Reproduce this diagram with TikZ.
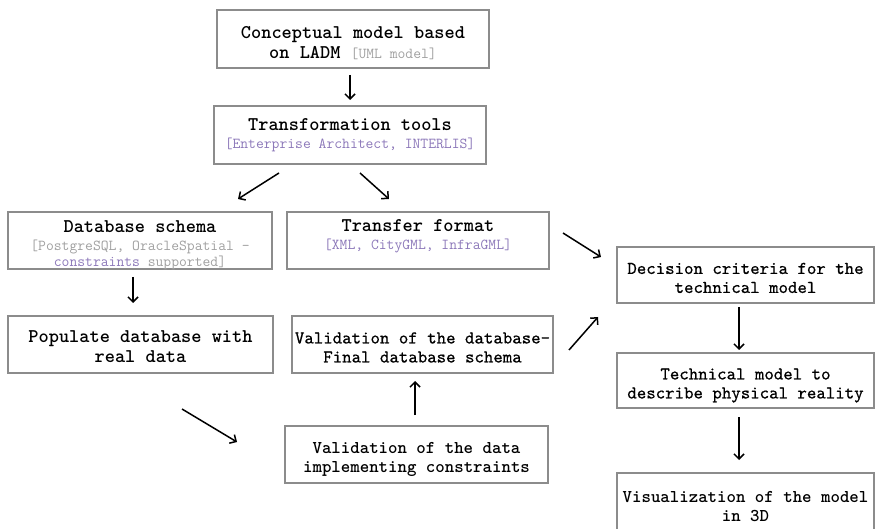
\documentclass[tikz,border=0pt]{standalone}
\usepackage{fontspec}
\newfontfamily\ttmid{lmmono10-regular.otf}[FakeBold=0.6]
\usetikzlibrary{arrows.meta}
\definecolor{boxgray}{RGB}{140,140,140}
\definecolor{subgray}{RGB}{160,160,160}
\definecolor{subpurple}{RGB}{140,120,185}
\newcommand\subtxt[1]{{\fontsize{15.2}{17}\selectfont\mdseries\color{subgray}#1}}
\newcommand\subpur[1]{{\fontsize{15.2}{17}\selectfont\mdseries\color{subpurple}#1}}
\newcommand\lift[1]{\rule{0pt}{#1}}
\newcommand\drop[1]{\rule[-#1]{0pt}{0pt}}
\begin{document}
\begin{tikzpicture}[x=1pt,y=-1pt,
 box/.style={draw=boxgray, line width=1.3pt, inner sep=0pt, align=center},
 big/.style={font=\ttfamily\bfseries\fontsize{19.4}{20.5}\selectfont},
 mid/.style={font=\ttmid\fontsize{18}{19}\selectfont},
 midb/.style={font=\ttfamily\bfseries\fontsize{18}{19}\selectfont},
 arr/.style={line width=1.5pt, -{Straight Barb[length=5pt,width=10pt]}}
]
\useasboundingbox (0,0) rectangle (876,529);

\node[box,big,minimum width=272pt,minimum height=58pt] (concept) at (353,39)
 {\lift{20pt}Conceptual model based\\on LADM \subtxt{[UML model]}};
\node[box,big,minimum width=272pt,minimum height=58pt] (trans) at (350,135)
 {Transformation tools\\[-2pt]\subpur{[Enterprise Architect, INTERLIS]}};
\node[box,big,inner ysep=-8pt,minimum width=264pt,minimum height=57pt] (dbs) at (140,240.5)
 {\lift{22pt}Database schema\\[-3pt]\subtxt{[PostgreSQL, OracleSpatial -}\\[-4pt]\subpur{constraints}\subtxt{\ supported]}};
\node[box,big,minimum width=262pt,minimum height=57pt] (tf) at (418,240.5)
 {Transfer format\\[-2pt]\subpur{[XML, CityGML, InfraGML]}\drop{12pt}};
\node[box,big,minimum width=265pt,minimum height=57pt] (pop) at (140.5,344.5)
 {\lift{16pt}Populate database with\\real data};
\node[box,mid,minimum width=261pt,minimum height=57pt] (valdb) at (422.5,344.5)
 {\lift{17pt}Validation of the database-\\Final database schema};
\node[box,midb,minimum width=263pt,minimum height=57pt] (valdata) at (416.5,454.5)
 {\lift{21pt}Validation of the data\\implementing constraints};
\node[box,mid,minimum width=257pt,minimum height=56pt] (dec) at (745.5,275)
 {\lift{17pt}Decision criteria for the\\technical model};
\node[box,mid,minimum width=257pt,minimum height=55pt] (tech) at (745.5,380.5)
 {\lift{21pt}Technical model to\\describe physical reality};
\node[box,midb,minimum width=257pt,minimum height=60pt] (vis) at (745.5,503)
 {\lift{19pt}Visualization of the model\\in 3D};

\coordinate (c1a) at (350,75);  \coordinate (c1b) at (350,100);
\coordinate (c2a) at (279,173); \coordinate (c2b) at (238,199);
\coordinate (c3a) at (360,173); \coordinate (c3b) at (389,199);
\coordinate (c4a) at (133,277); \coordinate (c4b) at (133,303);
\coordinate (c5a) at (563,233); \coordinate (c5b) at (601,257);
\coordinate (c6a) at (569,350); \coordinate (c6b) at (598,317);
\coordinate (c7a) at (739,307); \coordinate (c7b) at (739,350);
\coordinate (c8a) at (739,417); \coordinate (c8b) at (739,460);
\coordinate (c9a) at (182,409); \coordinate (c9b) at (237,442);
\coordinate (c10a) at (415,415); \coordinate (c10b) at (415,381);

\draw[arr] (c1a) -- (c1b);
\draw[arr] (c2a) -- (c2b);
\draw[arr] (c3a) -- (c3b);
\draw[arr] (c4a) -- (c4b);
\draw[arr] (c5a) -- (c5b);
\draw[arr] (c6a) -- (c6b);
\draw[arr] (c7a) -- (c7b);
\draw[arr] (c8a) -- (c8b);
\draw[arr] (c9a) -- (c9b);
\draw[arr] (c10a) -- (c10b);
\end{tikzpicture}
\end{document}
